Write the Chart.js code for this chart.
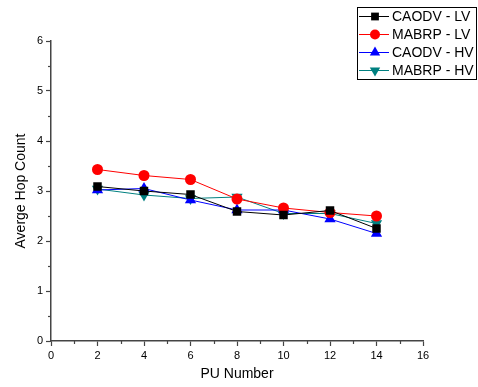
<!DOCTYPE html>
<html><head><meta charset="utf-8">
<script src="https://cdn.jsdelivr.net/npm/chart.js@4/dist/chart.umd.min.js"></script>
<style>html,body{margin:0;padding:0;background:#fff}canvas{display:block}</style>
</head><body>
<canvas id="c" width="478" height="387"></canvas>
<script>
const puNumbers = [2, 4, 6, 8, 10, 12, 14];
const caodvLV = [3.09, 3.00, 2.93, 2.59, 2.52, 2.61, 2.25];
const mabrpLV = [3.43, 3.31, 3.23, 2.84, 2.66, 2.57, 2.50];
const caodvHV = [3.02, 3.05, 2.82, 2.62, 2.62, 2.44, 2.15];
const mabrpHV = [3.04, 2.92, 2.85, 2.88, 2.55, 2.55, 2.35];
const seriesNames = ['CAODV - LV', 'MABRP - LV', 'CAODV - HV', 'MABRP - HV'];

const FONT = 'Liberation Sans, Arial, sans-serif';
const pts = arr => arr.map((y, i) => ({x: puNumbers[i], y}));

const styles = [
  {color: '#000000', style: 'rect', rot: 0, r: 6},
  {color: '#ff0000', style: 'circle', rot: 0, r: 5.5},
  {color: '#0000ff', style: 'triangle', rot: 0, r: 6.5},
  {color: '#008080', style: 'triangle', rot: 180, r: 6.5}
];
const values = [caodvLV, mabrpLV, caodvHV, mabrpHV];
const datasets = values.map((v, i) => ({
  label: seriesNames[i], data: pts(v),
  borderColor: styles[i].color, backgroundColor: styles[i].color,
  borderWidth: 1, pointStyle: styles[i].style, rotation: styles[i].rot,
  pointRadius: styles[i].r, pointBorderWidth: 0, tension: 0
}));

const minorTicks = {
  id: 'minorTicks',
  afterDraw(chart) {
    const ctx = chart.ctx, xs = chart.scales.x, ys = chart.scales.y;
    ctx.save();
    ctx.strokeStyle = '#444'; ctx.lineWidth = 1.2;
    for (let v = 1; v < 16; v += 2) {
      const px = Math.round(xs.getPixelForValue(v)) + 0.5;
      ctx.beginPath(); ctx.moveTo(px, xs.top); ctx.lineTo(px, xs.top + 3); ctx.stroke();
    }
    for (let v = 0.5; v < 6; v += 1) {
      const py = Math.round(ys.getPixelForValue(v)) + 0.5;
      ctx.beginPath(); ctx.moveTo(ys.right, py); ctx.lineTo(ys.right - 3, py); ctx.stroke();
    }
    // legend box
    const bx = 357, by = 7, bw = 119, bh = 72;
    ctx.fillStyle = '#fff'; ctx.fillRect(bx, by, bw, bh);
    ctx.strokeStyle = '#000'; ctx.lineWidth = 1;
    ctx.strokeRect(bx + 0.5, by + 0.5, bw, bh);
    ctx.font = '14px ' + FONT; ctx.textBaseline = 'middle'; ctx.textAlign = 'left';
    chart.data.datasets.forEach((ds, i) => {
      const y = by + 9 + i * 18;
      ctx.strokeStyle = ds.borderColor; ctx.lineWidth = 1;
      ctx.beginPath(); ctx.moveTo(bx + 2, y + 0.5); ctx.lineTo(bx + 32, y + 0.5); ctx.stroke();
      ctx.fillStyle = ds.backgroundColor;
      Chart.helpers.drawPoint(ctx, {pointStyle: ds.pointStyle, rotation: ds.rotation, radius: ds.pointRadius - 0.5, borderWidth: 0}, bx + 18, y + 0.5);
      ctx.fillStyle = '#000';
      ctx.fillText(ds.label, bx + 35, y + 1);
    });
    ctx.restore();
  }
};

new Chart(document.getElementById('c'), {
  type: 'line',
  data: {datasets},
  options: {
    responsive: false, animation: false,
    layout: {padding: {left: 0, top: 41, right: 55, bottom: 0}},
    plugins: {legend: {display: false}, tooltip: {enabled: false}},
    scales: {
      x: {
        type: 'linear', min: 0, max: 16,
        afterFit(s) { s.height = 46; },
        ticks: {stepSize: 2, color: '#000', font: {family: FONT, size: 11}, padding: 3, maxRotation: 0},
        grid: {display: true, drawOnChartArea: false, drawTicks: true, tickLength: 5, tickColor: '#444', tickWidth: 1.2},
        border: {display: true, color: '#444', width: 1.5},
        title: {display: true, text: 'PU Number', color: '#000', font: {family: FONT, size: 14}, padding: {top: 8}}
      },
      y: {
        type: 'linear', min: 0, max: 6,
        afterFit(s) { s.width = 51; },
        ticks: {stepSize: 1, color: '#000', font: {family: FONT, size: 11}, padding: 3},
        grid: {display: true, drawOnChartArea: false, drawTicks: true, tickLength: 5, tickColor: '#444', tickWidth: 1.2},
        border: {display: true, color: '#444', width: 1.5},
        title: {display: true, text: 'Averge Hop Count', color: '#000', font: {family: FONT, size: 14}, padding: {top: 13, bottom: 0}}
      }
    }
  },
  plugins: [minorTicks]
});
</script>
</body></html>
